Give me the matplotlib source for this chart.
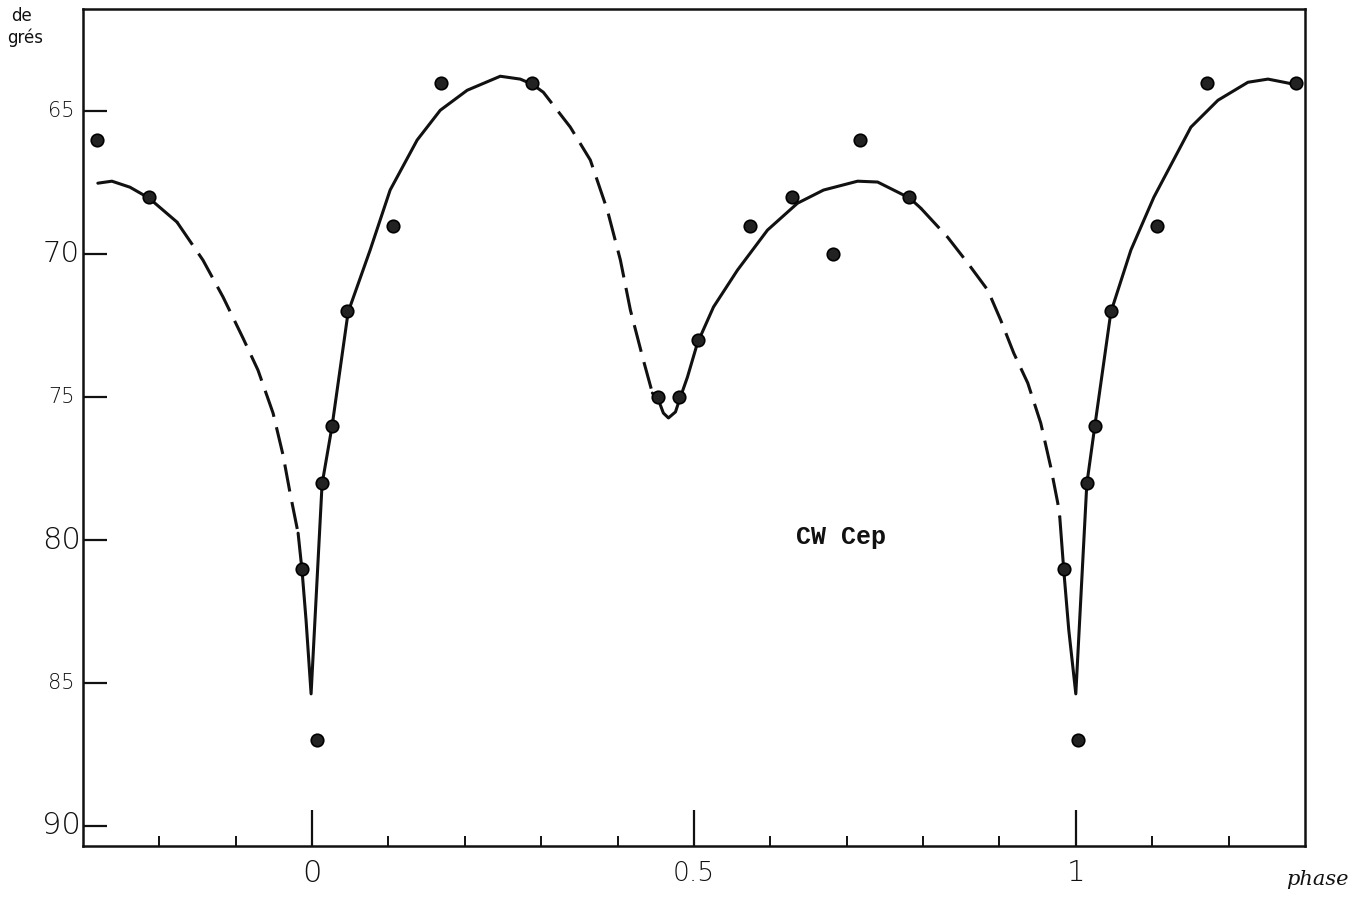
import matplotlib
matplotlib.use('Agg')
import matplotlib.pyplot as plt
import matplotlib.transforms as mtransforms

# measured points (phase, degrees)
phase = [-0.282, -0.214, 0.106, 0.046, 0.026, 0.013, -0.013, 0.007, 0.169, 0.288,
         0.453, 0.481, 0.505, 0.574, 0.628, 0.682, 0.718, 0.782,
         0.984, 1.014, 1.025, 1.046, 1.003, 1.106, 1.172, 1.288]
deg = [66, 68, 69, 72, 76, 78, 81, 87, 64, 64,
       75, 75, 73, 69, 68, 70, 66, 68,
       81, 78, 76, 72, 87, 69, 64, 64]

# hand-drawn curve, read piece by piece (solid / dashed)
segA_x = [-0.2805, -0.2621, -0.2385, -0.2136, -0.1769]
segA_y = [67.52, 67.45, 67.66, 68.04, 68.88]
segB_x = [-0.1769, -0.1429, -0.1166, -0.0904, -0.0708, -0.0511, -0.0380, -0.0288, -0.0183]
segB_y = [68.88, 70.21, 71.50, 72.94, 74.06, 75.56, 77.03, 78.36, 79.76]
segC_x = [-0.0183, -0.0131, -0.0079, -0.0013, 0.0131, 0.0262, 0.0472, 0.0760, 0.1022,
          0.1376, 0.1678, 0.2031, 0.2464, 0.2726, 0.2883]
segC_y = [79.76, 81.08, 82.80, 85.38, 78.04, 76.01, 72.03, 69.86, 67.76,
          66.01, 64.97, 64.27, 63.78, 63.88, 64.06]
segD_x = [0.2883, 0.3028, 0.3381, 0.3643, 0.3866, 0.4037, 0.4168, 0.4338, 0.4456]
segD_y = [64.06, 64.34, 65.56, 66.71, 68.46, 70.21, 71.96, 73.71, 74.86]
segE_x = [0.4456, 0.4535, 0.4600, 0.4666, 0.4758, 0.4810, 0.4915, 0.5046, 0.5256, 0.5570,
          0.5963, 0.6356, 0.6697, 0.7143, 0.7405, 0.7667, 0.7824, 0.7969]
segE_y = [74.86, 75.10, 75.56, 75.73, 75.52, 75.10, 74.30, 73.11, 71.85, 70.56,
          69.16, 68.22, 67.76, 67.45, 67.48, 67.83, 68.04, 68.39]
segF_x = [0.7969, 0.8322, 0.8584, 0.8847, 0.9017, 0.9187, 0.9371, 0.9541, 0.9672, 0.9764, 0.9790]
segF_y = [68.39, 69.41, 70.31, 71.26, 72.31, 73.46, 74.51, 75.91, 77.45, 78.71, 79.20]
segG_x = [0.9790, 0.9843, 0.9908, 1.0000, 1.0144, 1.0249, 1.0459, 1.0721, 1.1022,
          1.1507, 1.1861, 1.2254, 1.2516, 1.2726, 1.2910]
segG_y = [79.20, 81.08, 83.15, 85.38, 78.04, 76.01, 72.03, 69.86, 68.01,
          65.56, 64.62, 63.99, 63.88, 63.99, 64.09]

ytick_vals = [65, 70, 75, 80, 85, 90]
ytick_sizes = [15, 21, 15, 22, 15, 22]
xtick_major = [0, 0.5, 1]
xtick_labels = ['0', '0.5', '1']
xtick_sizes = [22, 19, 21]

fig = plt.figure(figsize=(13.69, 9.05), dpi=100)
ax = fig.add_axes([0.0606, 0.0652, 0.8926, 0.9248])

ink = '#111111'
solid = dict(color=ink, lw=2.2, solid_capstyle='round', solid_joinstyle='round')
dash = dict(color=ink, lw=2.2, dashes=(9, 3.5))
ax.plot(segA_x, segA_y, **solid)
ax.plot(segB_x, segB_y, **dash)
ax.plot(segC_x, segC_y, **solid)
ax.plot(segD_x, segD_y, **dash)
ax.plot(segE_x, segE_y, **solid)
ax.plot(segF_x, segF_y, **dash)
ax.plot(segG_x, segG_y, **solid)

ax.plot(phase, deg, 'o', color='#222222', markersize=9, markeredgecolor='black',
        markeredgewidth=1.2, zorder=5)

ax.set_xlim(-0.30, 1.30)
ax.set_ylim(90.7, 61.43)

for s in ax.spines.values():
    s.set_linewidth(1.8)
    s.set_color(ink)

ax.set_xticks(xtick_major)
ax.set_xticks([-0.2, -0.1, 0.1, 0.2, 0.3, 0.4, 0.6, 0.7, 0.8, 0.9, 1.1, 1.2], minor=True)
ax.tick_params(axis='x', which='major', direction='in', length=26, width=1.6,
               labelbottom=False, color=ink)
ax.tick_params(axis='x', which='minor', direction='in', length=7, width=1.4, color=ink)
ax.set_yticks(ytick_vals)
ax.tick_params(axis='y', direction='in', length=17, width=1.6, labelleft=False, color=ink)

# tick labels written by hand in the original, different sizes
ty = mtransforms.blended_transform_factory(fig.transFigure, ax.transData)
for v, fs in zip(ytick_vals, ytick_sizes):
    fig.text(0.045, v, str(v), transform=ty, ha='center', va='center',
             fontsize=fs, fontfamily='DejaVu Sans', fontweight='light', color=ink)

tx = mtransforms.blended_transform_factory(ax.transData, fig.transFigure)
for v, lab, fs in zip(xtick_major, xtick_labels, xtick_sizes):
    fig.text(v, 0.035, lab, transform=tx, ha='center', va='center', fontsize=fs,
             fontweight='light', color=ink)

fig.text(0.962, 0.028, 'phase', ha='center', va='center', fontsize=15,
         fontstyle='italic', fontfamily='DejaVu Serif', color=ink)
fig.text(0.016, 0.982, 'de', ha='center', va='center', fontsize=12, color=ink)
fig.text(0.018, 0.958, 'grés', ha='center', va='center', fontsize=12, color=ink)

ax.text(0.692, 79.9, 'CW Cep', ha='center', va='center', fontsize=18,
        fontfamily='Liberation Mono', fontweight='bold', color=ink)

fig.savefig('out.png', dpi=100)
